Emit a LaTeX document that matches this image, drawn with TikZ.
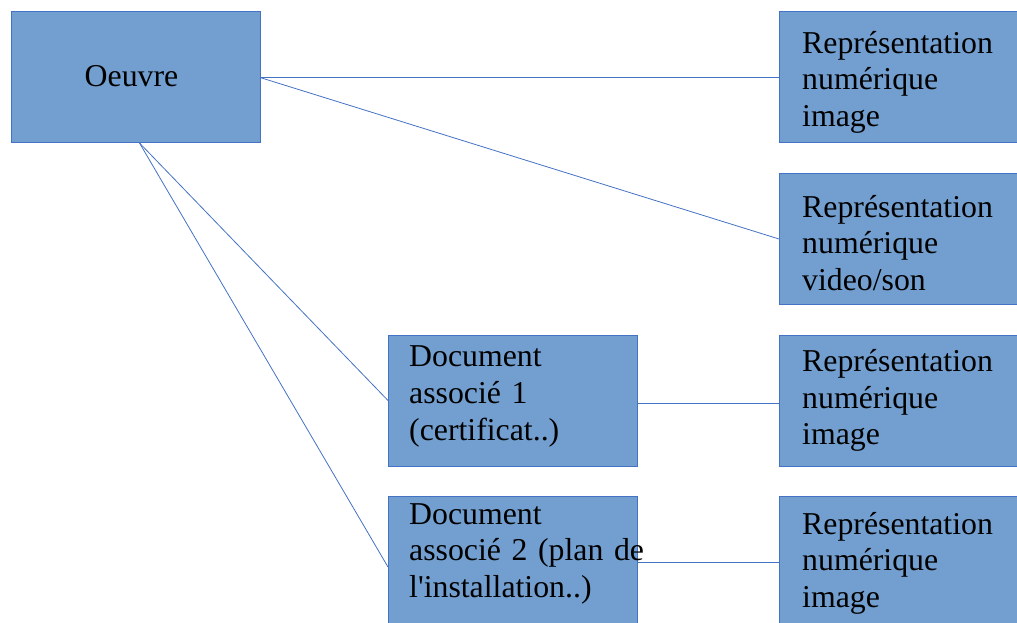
\documentclass[tikz,border=0pt]{standalone}
\usepackage{fontspec}
\setmainfont{Liberation Serif}
\definecolor{boxfill}{RGB}{114,159,207}
\definecolor{boxline}{RGB}{68,114,196}
\begin{document}
\begin{tikzpicture}[x=1pt,y=-1pt,
  box/.style={draw=boxline,fill=boxfill,line width=1pt,minimum width=249pt,minimum height=131pt,inner sep=0pt,outer sep=0pt},
  txt/.style={anchor=base west,inner sep=0pt,text width=240pt,align=left,font=\fontsize{31.8}{36.7}\selectfont},
  link/.style={draw=boxline,line width=0.8pt}]
\useasboundingbox (0,0) rectangle (1017,623);
\clip (0,0) rectangle (1017,623);
\node[box] (oeuvre) at (135.5,77.5) {};
\node[box] (r1) at (903.5,77.5) {};
\node[box] (r2) at (903.5,239) {};
\node[box] (d1) at (512.5,400.5) {};
\node[box] (r3) at (903.5,400.5) {};
\node[box] (d2) at (512.5,561.5) {};
\node[box] (r4) at (903.5,561.5) {};
\node[inner sep=0pt,font=\fontsize{31.8}{36.7}\selectfont] (toeuvre) at (131.5,76) {Oeuvre};
\node[txt] (tr1) at (802,53.3) {Représentation\\numérique\\image};
\node[txt] (tr2) at (802,217) {Représentation\\numérique\\video/son};
\node[txt] (tr3) at (802,371.5) {Représentation\\numérique\\image};
\node[txt] (tr4) at (802,534) {Représentation\\numérique\\image};
\node[txt] (td1) at (409,366.7) {Document\\associé 1\\(certificat..)};
\node[txt] (td2) at (409,524) {Document\\associé 2 (plan de\\l\textquotesingle installation..)};
\draw[link] (oeuvre.east) -- (r1.west);
\draw[link] (oeuvre.east) -- (r2.west);
\draw[link] ([xshift=4pt]oeuvre.south) -- (d1.west);
\draw[link] ([xshift=4pt]oeuvre.south) -- ([yshift=-5.5pt]d2.west);
\draw[link] ([yshift=-2.5pt]d1.east) -- ([yshift=-2.5pt]r3.west);
\draw[link] ([yshift=-1pt]d2.east) -- ([yshift=-1pt]r4.west);
\end{tikzpicture}
\end{document}
